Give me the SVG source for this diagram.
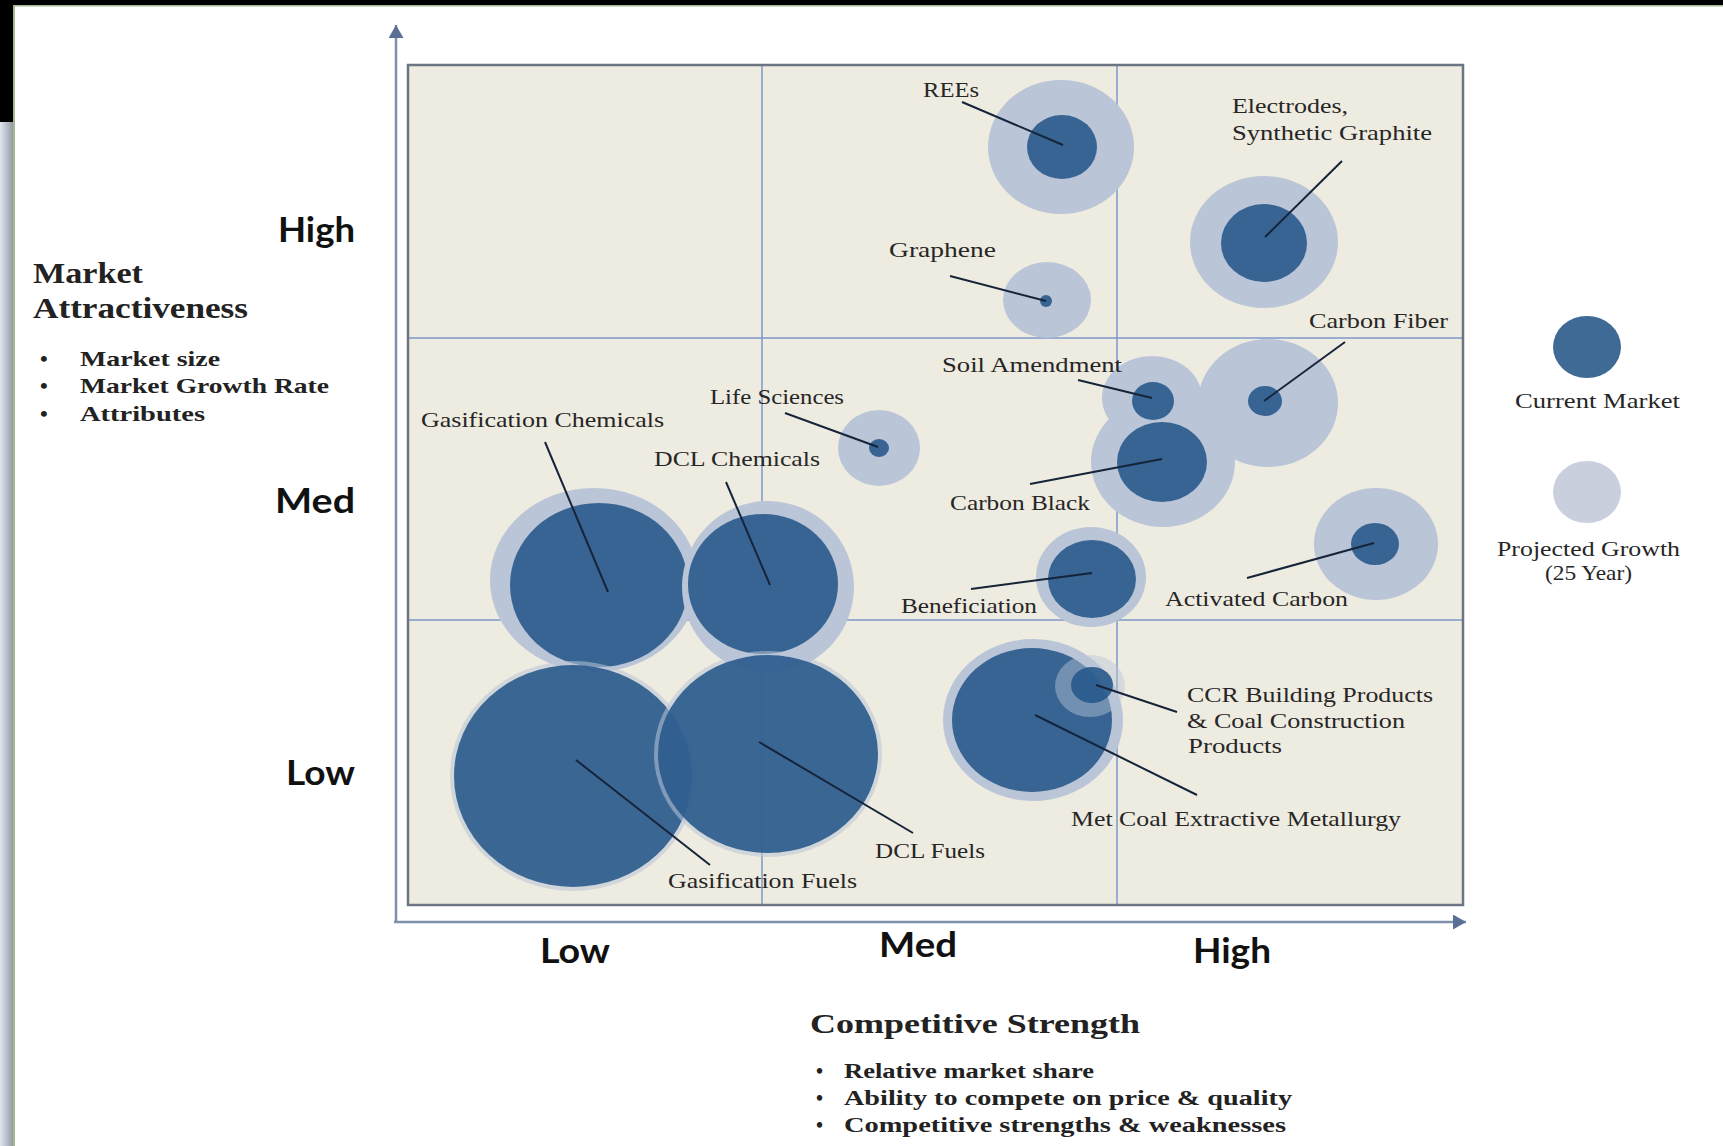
<svg xmlns="http://www.w3.org/2000/svg" width="1723" height="1146" viewBox="0 0 1723 1146">
<defs>
<style>
.lbl{font-family:"Liberation Serif","Times New Roman",serif;font-size:22px;fill:#262626;}
.ax{font-family:Lato,"Liberation Sans",sans-serif;font-weight:bold;font-size:35px;fill:#111;}
.hd{font-family:"Liberation Serif","Times New Roman",serif;font-weight:bold;fill:#222;}
.outer{fill:#bac5d7;}
.inner{fill:#24568a;fill-opacity:0.88;}
.ring{fill:#bac5d7;fill-opacity:0.55;}
.lead{stroke:#16243a;stroke-width:2;fill:none;}
.grid{stroke:#7b98c9;stroke-width:1.5;}
.axis{stroke:#7f90ad;stroke-width:2.5;fill:none;}
</style>
<linearGradient id="strip" x1="0" y1="0" x2="1" y2="0">
<stop offset="0" stop-color="#e2e6ee"/>
<stop offset="1" stop-color="#939aa4"/>
</linearGradient>
<marker id="arr" markerUnits="userSpaceOnUse" markerWidth="14" markerHeight="15" refX="13" refY="7.5" orient="auto">
<path d="M0,0 L13,7.5 L0,15 z" fill="#5b6f94"/>
</marker>
</defs>

<rect x="0" y="0" width="1723" height="1146" fill="#ffffff"/>
<!-- frame decorations -->
<rect x="0" y="0" width="1723" height="5" fill="#000"/>
<rect x="0" y="0" width="13" height="122" fill="#000"/>
<rect x="0" y="122" width="13" height="1024" fill="url(#strip)"/>
<rect x="13" y="5" width="1710" height="1.5" fill="#a4b78f"/>
<rect x="13" y="5" width="2" height="1141" fill="#a4b78f"/>

<!-- chart area -->
<g id="chart">
<rect x="408" y="65" width="1055" height="840" fill="#eeebe1"/>
<line class="grid" x1="762" y1="65" x2="762" y2="905"/>
<line class="grid" x1="1117" y1="65" x2="1117" y2="905"/>
<line class="grid" x1="408" y1="338" x2="1463" y2="338"/>
<line class="grid" x1="408" y1="620" x2="1463" y2="620"/>
<rect x="408" y="65" width="1055" height="840" fill="none" stroke="#6d7484" stroke-width="2.5"/>
</g>

<!-- axes -->
<g id="axes">
<line class="axis" x1="396" y1="921" x2="396" y2="25" marker-end="url(#arr)"/>
<line class="axis" x1="394" y1="922" x2="1466" y2="922" marker-end="url(#arr)"/>
<text class="ax" x="278" y="242" textLength="77" lengthAdjust="spacingAndGlyphs">High</text>
<text class="ax" x="275" y="513" textLength="80" lengthAdjust="spacingAndGlyphs">Med</text>
<text class="ax" x="286" y="785" textLength="69" lengthAdjust="spacingAndGlyphs">Low</text>
<text class="ax" x="540" y="963" textLength="70" lengthAdjust="spacingAndGlyphs">Low</text>
<text class="ax" x="879" y="957" textLength="78" lengthAdjust="spacingAndGlyphs">Med</text>
<text class="ax" x="1193" y="963" textLength="78" lengthAdjust="spacingAndGlyphs">High</text>
</g>

<!-- nodes -->
<g id="node-rees">
<ellipse class="outer" cx="1061" cy="147" rx="73" ry="67"/>
<ellipse class="inner" cx="1062" cy="147" rx="35" ry="32"/>
<text class="lbl" x="923" y="97" textLength="56" lengthAdjust="spacingAndGlyphs">REEs</text>
</g>
<g id="node-graphene">
<ellipse class="outer" cx="1047" cy="300" rx="44" ry="38"/>
<ellipse class="inner" cx="1046" cy="301" rx="6" ry="6"/>
<text class="lbl" x="889" y="257" textLength="107" lengthAdjust="spacingAndGlyphs">Graphene</text>
</g>
<g id="node-electrodes">
<ellipse class="outer" cx="1264" cy="242" rx="74" ry="66"/>
<ellipse class="inner" cx="1264" cy="243" rx="43" ry="39"/>
<text class="lbl" x="1232" y="113" textLength="116" lengthAdjust="spacingAndGlyphs">Electrodes,</text>
<text class="lbl" x="1232" y="140" textLength="200" lengthAdjust="spacingAndGlyphs">Synthetic Graphite</text>
</g>
<g id="node-carbon-fiber">
<ellipse class="outer" cx="1268" cy="403" rx="70" ry="64"/>
<text class="lbl" x="1309" y="328" textLength="139" lengthAdjust="spacingAndGlyphs">Carbon Fiber</text>
</g>
<g id="node-soil">
<ellipse class="outer" cx="1152" cy="398" rx="50" ry="42"/>
</g>
<g id="node-carbon-black">
<ellipse class="outer" cx="1163" cy="462" rx="72" ry="65"/>
<ellipse class="inner" cx="1162" cy="462" rx="45" ry="40"/>
<text class="lbl" x="950" y="510" textLength="140" lengthAdjust="spacingAndGlyphs">Carbon Black</text>
</g>
<g id="node-soil-top">
<ellipse class="inner" cx="1265" cy="401" rx="17" ry="15"/>
<ellipse class="inner" cx="1153" cy="401" rx="21" ry="19"/>
<text class="lbl" x="942" y="372" textLength="180" lengthAdjust="spacingAndGlyphs">Soil Amendment</text>
</g>
<g id="node-life-sciences">
<ellipse class="outer" cx="879" cy="448" rx="41" ry="38"/>
<ellipse class="inner" cx="879" cy="448" rx="10" ry="9"/>
<text class="lbl" x="710" y="404" textLength="134" lengthAdjust="spacingAndGlyphs">Life Sciences</text>
</g>
<g id="node-gas-chem">
<ellipse class="outer" cx="594" cy="580" rx="104" ry="92"/>
<ellipse class="inner" cx="599" cy="585" rx="89" ry="82"/>
<text class="lbl" x="421" y="427" textLength="243" lengthAdjust="spacingAndGlyphs">Gasification Chemicals</text>
</g>
<g id="node-dcl-chem">
<ellipse class="outer" cx="768" cy="587" rx="86" ry="86"/>
<ellipse class="inner" cx="763" cy="584" rx="75" ry="70"/>
<text class="lbl" x="654" y="466" textLength="166" lengthAdjust="spacingAndGlyphs">DCL Chemicals</text>
</g>
<g id="node-beneficiation">
<ellipse class="outer" cx="1091" cy="577" rx="55" ry="50"/>
<ellipse class="inner" cx="1092" cy="579" rx="44" ry="39"/>
<text class="lbl" x="901" y="613" textLength="136" lengthAdjust="spacingAndGlyphs">Beneficiation</text>
</g>
<g id="node-activated-carbon">
<ellipse class="outer" cx="1376" cy="544" rx="62" ry="56"/>
<ellipse class="inner" cx="1375" cy="544" rx="24" ry="21"/>
<text class="lbl" x="1165" y="606" textLength="183" lengthAdjust="spacingAndGlyphs">Activated Carbon</text>
</g>
<g id="node-met-coal">
<ellipse class="outer" cx="1033" cy="720" rx="90" ry="81"/>
<ellipse class="inner" cx="1032" cy="720" rx="80" ry="72"/>
<text class="lbl" x="1071" y="826" textLength="330" lengthAdjust="spacingAndGlyphs">Met Coal Extractive Metallurgy</text>
</g>
<g id="node-ccr">
<ellipse class="outer" cx="1090" cy="686" rx="35" ry="31" fill-opacity="0.45"/>
<ellipse class="inner" cx="1092" cy="685" rx="21" ry="18"/>
<text class="lbl" x="1187" y="702" textLength="246" lengthAdjust="spacingAndGlyphs">CCR Building Products</text>
<text class="lbl" x="1187" y="728" textLength="218" lengthAdjust="spacingAndGlyphs">&amp; Coal Construction</text>
<text class="lbl" x="1188" y="753" textLength="94" lengthAdjust="spacingAndGlyphs">Products</text>
</g>
<g id="node-gas-fuels">
<ellipse class="ring" cx="573" cy="776" rx="123" ry="115"/>
<ellipse class="inner" cx="573" cy="776" rx="119" ry="111"/>
<text class="lbl" x="668" y="888" textLength="189" lengthAdjust="spacingAndGlyphs">Gasification Fuels</text>
</g>
<g id="node-dcl-fuels">
<ellipse class="ring" cx="768" cy="754" rx="114" ry="103"/>
<ellipse class="inner" cx="768" cy="754" rx="110" ry="99"/>
<text class="lbl" x="875" y="858" textLength="110" lengthAdjust="spacingAndGlyphs">DCL Fuels</text>
</g>

<!-- connectors (leader lines) -->
<g id="connectors">
<line class="lead" x1="962" y1="102" x2="1063" y2="145"/>
<line class="lead" x1="950" y1="276" x2="1046" y2="301"/>
<line class="lead" x1="1342" y1="161" x2="1265" y2="237"/>
<line class="lead" x1="1345" y1="342" x2="1264" y2="401"/>
<line class="lead" x1="1078" y1="380" x2="1152" y2="398"/>
<line class="lead" x1="1030" y1="484" x2="1162" y2="459"/>
<line class="lead" x1="785" y1="413" x2="878" y2="447"/>
<line class="lead" x1="545" y1="442" x2="608" y2="592"/>
<line class="lead" x1="726" y1="482" x2="770" y2="585"/>
<line class="lead" x1="971" y1="589" x2="1092" y2="573"/>
<line class="lead" x1="1247" y1="578" x2="1374" y2="543"/>
<line class="lead" x1="1035" y1="715" x2="1197" y2="795"/>
<line class="lead" x1="1177" y1="712" x2="1096" y2="685"/>
<line class="lead" x1="576" y1="760" x2="710" y2="865"/>
<line class="lead" x1="759" y1="742" x2="913" y2="833"/>
</g>

<!-- legend -->
<g id="legend">
<ellipse cx="1587" cy="347" rx="34" ry="31" fill="#3f6a96"/>
<text class="lbl" x="1515" y="408" textLength="165" lengthAdjust="spacingAndGlyphs">Current Market</text>
<ellipse cx="1587" cy="492" rx="34" ry="31" fill="#c9cfdc"/>
<text class="lbl" x="1497" y="556" textLength="183" lengthAdjust="spacingAndGlyphs">Projected Growth</text>
<text class="lbl" x="1545" y="580" textLength="87" lengthAdjust="spacingAndGlyphs">(25 Year)</text>
</g>

<!-- market attractiveness -->
<g id="y-title">
<text class="hd" x="33" y="283" font-size="29" textLength="110" lengthAdjust="spacingAndGlyphs">Market</text>
<text class="hd" x="33" y="318" font-size="29" textLength="215" lengthAdjust="spacingAndGlyphs">Attractiveness</text>
<text class="hd" x="40" y="366" font-size="22">•</text>
<text class="hd" x="80" y="366" font-size="22" textLength="140" lengthAdjust="spacingAndGlyphs">Market size</text>
<text class="hd" x="40" y="393" font-size="22">•</text>
<text class="hd" x="80" y="393" font-size="22" textLength="249" lengthAdjust="spacingAndGlyphs">Market Growth Rate</text>
<text class="hd" x="40" y="421" font-size="22">•</text>
<text class="hd" x="80" y="421" font-size="22" textLength="125" lengthAdjust="spacingAndGlyphs">Attributes</text>
</g>

<!-- competitive strength -->
<g id="x-title">
<text class="hd" x="810" y="1033" font-size="27" textLength="330" lengthAdjust="spacingAndGlyphs">Competitive Strength</text>
<text class="hd" x="816" y="1078" font-size="20">•</text>
<text class="hd" x="844" y="1078" font-size="20" textLength="250" lengthAdjust="spacingAndGlyphs">Relative market share</text>
<text class="hd" x="816" y="1105" font-size="20">•</text>
<text class="hd" x="844" y="1105" font-size="20" textLength="448" lengthAdjust="spacingAndGlyphs">Ability to compete on price &amp; quality</text>
<text class="hd" x="816" y="1132" font-size="20">•</text>
<text class="hd" x="844" y="1132" font-size="20" textLength="442" lengthAdjust="spacingAndGlyphs">Competitive strengths &amp; weaknesses</text>
</g>
</svg>
